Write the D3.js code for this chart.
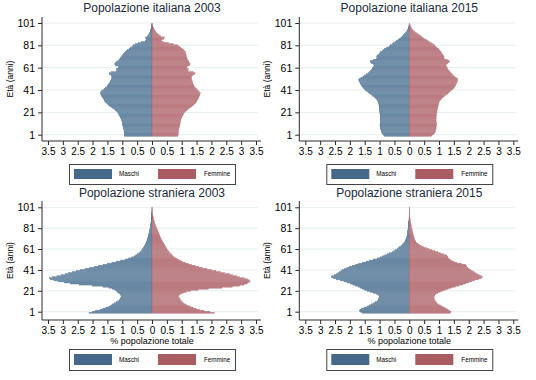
<!DOCTYPE html>
<html><head><meta charset="utf-8">
<script src="https://cdn.jsdelivr.net/npm/d3@7"></script>
<style>body{margin:0;background:#fff}svg{display:block;font-family:"Liberation Sans",Arial,Helvetica,sans-serif}</style>
</head><body><svg id="c" width="536" height="380"></svg>
<script>
const titles = ["Popolazione italiana 2003","Popolazione italiana 2015","Popolazione straniera 2003","Popolazione straniera 2015"];
const yTicks = [1,21,41,61,81,101];
const xTicks = [-3.5,-3,-2.5,-2,-1.5,-1,-0.5,0,0.5,1,1.5,2,2.5,3,3.5];
const legendLabels = ["Maschi","Femmine"];
const yTitle = "Età (anni)";
const xTitle = "% popolazione totale";
const ages = d3.range(0,101);

const itaM2003 = [0.93,0.93,0.93,0.94,0.94,0.94,0.95,0.96,0.97,0.98,
 0.99,1.00,1.00,1.01,1.02,1.03,1.05,1.07,1.09,1.11,
 1.13,1.16,1.20,1.24,1.28,1.33,1.38,1.43,1.48,1.52,
 1.56,1.59,1.61,1.63,1.65,1.68,1.70,1.72,1.73,1.72,
 1.69,1.65,1.60,1.56,1.52,1.50,1.47,1.44,1.41,1.39,
 1.37,1.36,1.35,1.35,1.36,1.42,1.44,1.36,1.20,1.18,
 1.20,1.12,1.12,1.22,1.25,1.24,1.20,1.15,1.11,1.08,
 1.05,1.02,0.99,0.96,0.92,0.90,0.86,0.82,0.77,0.72,
 0.66,0.62,0.55,0.46,0.36,0.22,0.18,0.20,0.22,0.15,
 0.12,0.10,0.08,0.06,0.05,0.04,0.03,0.02,0.015,0.01,
 0.005];
const itaF2003 = [0.87,0.88,0.88,0.89,0.89,0.90,0.90,0.91,0.92,0.93,
 0.94,0.94,0.95,0.96,0.97,0.98,0.99,1.01,1.03,1.05,
 1.07,1.10,1.14,1.18,1.22,1.27,1.32,1.37,1.41,1.45,
 1.48,1.51,1.53,1.55,1.57,1.58,1.60,1.61,1.62,1.60,
 1.57,1.53,1.50,1.46,1.43,1.41,1.39,1.37,1.36,1.35,
 1.34,1.33,1.33,1.33,1.36,1.42,1.45,1.38,1.22,1.20,
 1.23,1.17,1.18,1.25,1.28,1.27,1.24,1.22,1.20,1.18,
 1.17,1.16,1.15,1.14,1.13,1.12,1.10,1.07,1.02,0.97,
 0.92,0.85,0.72,0.56,0.38,0.32,0.33,0.40,0.42,0.30,
 0.24,0.20,0.16,0.13,0.10,0.08,0.06,0.04,0.03,0.02,
 0.015];
const itaM2015 = [0.83,0.86,0.90,0.93,0.94,0.95,0.96,0.97,0.98,0.98,
 0.99,0.98,0.98,0.97,0.97,0.97,0.97,0.97,0.98,0.98,
 0.99,0.99,1.00,1.00,1.00,1.01,1.01,1.02,1.02,1.03,
 1.04,1.06,1.08,1.11,1.15,1.19,1.24,1.29,1.34,1.39,
 1.44,1.48,1.52,1.55,1.58,1.60,1.63,1.65,1.67,1.69,
 1.70,1.68,1.63,1.56,1.50,1.44,1.39,1.34,1.30,1.27,
 1.25,1.23,1.20,1.18,1.20,1.27,1.31,1.30,1.22,1.10,
 1.08,1.10,1.06,1.02,0.99,0.96,0.90,0.86,0.83,0.76,
 0.68,0.63,0.58,0.53,0.48,0.43,0.38,0.33,0.28,0.24,
 0.19,0.16,0.12,0.09,0.07,0.05,0.035,0.025,0.015,0.01,
 0.005];
const itaF2015 = [0.74,0.79,0.83,0.86,0.88,0.89,0.90,0.90,0.91,0.91,
 0.92,0.91,0.91,0.90,0.90,0.90,0.90,0.90,0.91,0.91,
 0.92,0.93,0.93,0.94,0.94,0.95,0.96,0.97,0.98,0.99,
 1.00,1.02,1.05,1.08,1.12,1.16,1.20,1.25,1.30,1.35,
 1.39,1.43,1.47,1.50,1.53,1.55,1.57,1.59,1.61,1.62,
 1.63,1.62,1.58,1.53,1.48,1.44,1.40,1.37,1.34,1.31,
 1.29,1.27,1.25,1.23,1.24,1.30,1.34,1.34,1.28,1.18,
 1.15,1.17,1.14,1.11,1.09,1.07,1.03,1.00,0.98,0.93,
 0.88,0.84,0.80,0.74,0.69,0.63,0.57,0.50,0.45,0.40,
 0.34,0.29,0.24,0.19,0.15,0.11,0.08,0.06,0.04,0.025,
 0.015];
const strM2003 = [2.12,2.00,1.90,1.75,1.65,1.55,1.45,1.38,1.32,1.27,
 1.20,1.15,1.10,1.07,1.05,1.03,1.02,1.05,1.08,1.12,
 1.17,1.20,1.25,1.33,1.45,1.65,2.00,2.45,2.75,2.95,
 3.15,3.30,3.42,3.45,3.35,3.20,3.05,2.92,2.80,2.68,
 2.55,2.40,2.25,2.10,1.95,1.80,1.65,1.50,1.35,1.20,
 1.05,0.90,0.78,0.68,0.60,0.54,0.48,0.44,0.40,0.37,
 0.34,0.31,0.29,0.27,0.25,0.23,0.22,0.20,0.19,0.17,
 0.16,0.15,0.14,0.13,0.12,0.11,0.10,0.09,0.085,0.08,
 0.07,0.065,0.06,0.05,0.045,0.04,0.035,0.03,0.025,0.02,
 0.018,0.015,0.012,0.01,0.008,0.007,0.006,0.005,0.004,0.003,
 0.002];
const strF2003 = [2.10,1.95,1.75,1.60,1.48,1.38,1.28,1.20,1.13,1.07,
 1.02,0.99,0.96,0.94,0.92,0.90,0.90,0.92,0.97,1.05,
 1.15,1.30,1.55,1.90,2.35,2.70,2.95,3.10,3.20,3.25,
 3.30,3.28,3.20,3.10,2.95,2.85,2.72,2.60,2.45,2.30,
 2.15,2.00,1.85,1.70,1.58,1.45,1.33,1.22,1.12,1.03,
 0.95,0.88,0.82,0.76,0.71,0.67,0.64,0.60,0.57,0.55,
 0.52,0.50,0.48,0.46,0.44,0.42,0.40,0.38,0.36,0.34,
 0.32,0.30,0.29,0.27,0.26,0.24,0.23,0.21,0.20,0.18,
 0.17,0.15,0.14,0.12,0.11,0.10,0.09,0.08,0.07,0.06,
 0.05,0.04,0.035,0.03,0.025,0.02,0.015,0.012,0.009,0.007,
 0.005];
const strM2015 = [1.57,1.64,1.68,1.66,1.60,1.50,1.42,1.35,1.28,1.20,
 1.13,1.08,1.05,1.03,1.02,1.01,1.01,1.04,1.10,1.20,
 1.32,1.42,1.50,1.57,1.65,1.72,1.80,1.90,1.98,2.08,
 2.20,2.32,2.45,2.56,2.63,2.60,2.52,2.45,2.40,2.35,
 2.30,2.25,2.18,2.10,2.02,1.92,1.80,1.70,1.58,1.45,
 1.33,1.20,1.08,0.98,0.90,0.82,0.74,0.66,0.58,0.52,
 0.46,0.41,0.36,0.32,0.28,0.24,0.21,0.18,0.15,0.13,
 0.12,0.10,0.09,0.08,0.075,0.07,0.06,0.055,0.05,0.045,
 0.04,0.035,0.03,0.028,0.025,0.02,0.018,0.016,0.014,0.012,
 0.01,0.008,0.007,0.006,0.005,0.004,0.003,0.002,0.002,0.001,
 0.001];
const strF2015 = [1.38,1.40,1.36,1.30,1.24,1.18,1.11,1.05,0.98,0.93,
 0.90,0.87,0.85,0.84,0.83,0.83,0.84,0.86,0.90,0.96,
 1.04,1.12,1.22,1.32,1.43,1.55,1.67,1.80,1.90,2.00,
 2.10,2.20,2.32,2.42,2.47,2.42,2.35,2.28,2.22,2.18,
 2.12,2.06,2.01,1.97,1.93,1.92,1.90,1.75,1.60,1.50,
 1.42,1.37,1.33,1.30,1.28,1.24,1.15,1.05,0.96,0.86,
 0.76,0.66,0.57,0.48,0.40,0.34,0.29,0.25,0.22,0.20,
 0.18,0.17,0.16,0.15,0.14,0.13,0.12,0.11,0.10,0.095,
 0.09,0.08,0.075,0.07,0.06,0.055,0.05,0.04,0.035,0.03,
 0.025,0.02,0.017,0.014,0.012,0.01,0.008,0.006,0.005,0.004,
 0.003];

const seriesM = [itaM2003, itaM2015, strM2003, strM2015];
const seriesF = [itaF2003, itaF2015, strF2003, strF2015];

const colM = {fill:"#7e9bb4", stroke:"#4a6c8c", legend:"#46698b"};
const colF = {fill:"#c8949a", stroke:"#a8585f", legend:"#a95c62"};
const gridCol = "#e6eef0";
const axisCol = "#2a2a2a";

const svg = d3.select("#c");
const font = '"Liberation Sans",Arial,Helvetica,sans-serif';

const geo = [
  {ox:0, y1:134.7, y101:23, axisY:141, top:17, titleY:12.3, legY:164, legH:20, xt:false},
  {ox:257.3, y1:134.7, y101:23, axisY:141, top:17, titleY:12.3, legY:164, legH:20, xt:false},
  {ox:0, y1:311.7, y101:207.3, axisY:320, top:201, titleY:197, legY:349, legH:21, xt:true},
  {ox:257.3, y1:311.7, y101:207.3, axisY:320, top:201, titleY:197, legY:349, legH:21, xt:true}
];

geo.forEach((g, i) => {
  const ox = g.ox;
  const x = d3.scaleLinear().domain([-3.5, 3.5]).range([48 + ox, 256 + ox]);
  const y = d3.scaleLinear().domain([1, 101]).range([g.y1, g.y101]);
  const G = svg.append("g");

  G.selectAll("line.grid").data(yTicks).join("line")
    .attr("x1", 42 + ox).attr("x2", 258 + ox)
    .attr("y1", d => y(d)).attr("y2", d => y(d))
    .attr("stroke", gridCol).attr("stroke-width", 1);

  const bh = a => y(a - 0.5) - y(a + 0.5);
  G.selectAll("rect.m").data(ages).join("rect")
    .attr("x", a => x(-seriesM[i][a])).attr("width", a => x(0) - x(-seriesM[i][a]))
    .attr("y", a => y(a + 0.5)).attr("height", bh)
    .attr("fill", colM.fill).attr("stroke", colM.stroke).attr("stroke-width", 0.35);
  G.selectAll("rect.f").data(ages).join("rect")
    .attr("x", x(0)).attr("width", a => x(seriesF[i][a]) - x(0))
    .attr("y", a => y(a + 0.5)).attr("height", bh)
    .attr("fill", colF.fill).attr("stroke", colF.stroke).attr("stroke-width", 0.35);

  const ya = d3.axisLeft(y).tickValues(yTicks).tickSize(4).tickPadding(3).tickFormat(d3.format("d"));
  const yg = G.append("g").attr("transform", `translate(${42 + ox},0)`).call(ya);
  yg.select(".domain").remove();
  yg.selectAll("line").attr("stroke", axisCol);
  yg.selectAll("text").attr("font-size", 10.5).attr("font-family", font).attr("fill", "#000");
  G.append("line").attr("x1", 42 + ox).attr("x2", 42 + ox).attr("y1", g.top).attr("y2", g.axisY)
    .attr("stroke", axisCol).attr("stroke-width", 1);

  const xa = d3.axisBottom(x).tickValues(xTicks).tickSize(4).tickPadding(3)
    .tickFormat(d => String(Math.abs(d)));
  const xg = G.append("g").attr("transform", `translate(0,${g.axisY})`).call(xa);
  xg.select(".domain").remove();
  xg.selectAll("line").attr("stroke", axisCol);
  xg.selectAll("text").attr("font-size", 10).attr("font-family", font).attr("fill", "#000");
  G.append("line").attr("x1", 42 + ox).attr("x2", 261 + ox).attr("y1", g.axisY).attr("y2", g.axisY)
    .attr("stroke", axisCol).attr("stroke-width", 1);

  G.append("text").attr("x", 152 + ox).attr("y", g.titleY).attr("text-anchor", "middle")
    .attr("font-size", 12).attr("font-family", font).attr("fill", "#1a2a3a").text(titles[i]);

  const yc = (g.top + g.axisY) / 2;
  G.append("text").attr("transform", `translate(${13 + ox},${yc}) rotate(-90)`)
    .attr("text-anchor", "middle").attr("font-size", 8.5).attr("font-family", font).attr("fill", "#000").text(yTitle);

  if (g.xt) {
    G.append("text").attr("x", 152 + ox).attr("y", 343.5).attr("text-anchor", "middle")
      .attr("font-size", 9).attr("font-family", font).attr("fill", "#000").text(xTitle);
  }

  const L = G.append("g");
  L.append("rect").attr("x", 69.5 + ox).attr("y", g.legY + 0.5).attr("width", 166).attr("height", g.legH)
    .attr("fill", "#fff").attr("stroke", "#444").attr("stroke-width", 1);
  const sy = g.legY + 5, sh = g.legH - 10;
  [[74, colM.legend, 119], [158, colF.legend, 204]].forEach((c, k) => {
    L.append("rect").attr("x", c[0] + ox).attr("y", sy).attr("width", 38).attr("height", sh)
      .attr("fill", c[1]);
    L.append("text").attr("x", c[2] + ox).attr("y", sy + sh / 2 + 2.2).attr("font-size", 6.3)
      .attr("font-family", font).attr("fill", "#000").text(legendLabels[k]);
  });
});
</script></body></html>
